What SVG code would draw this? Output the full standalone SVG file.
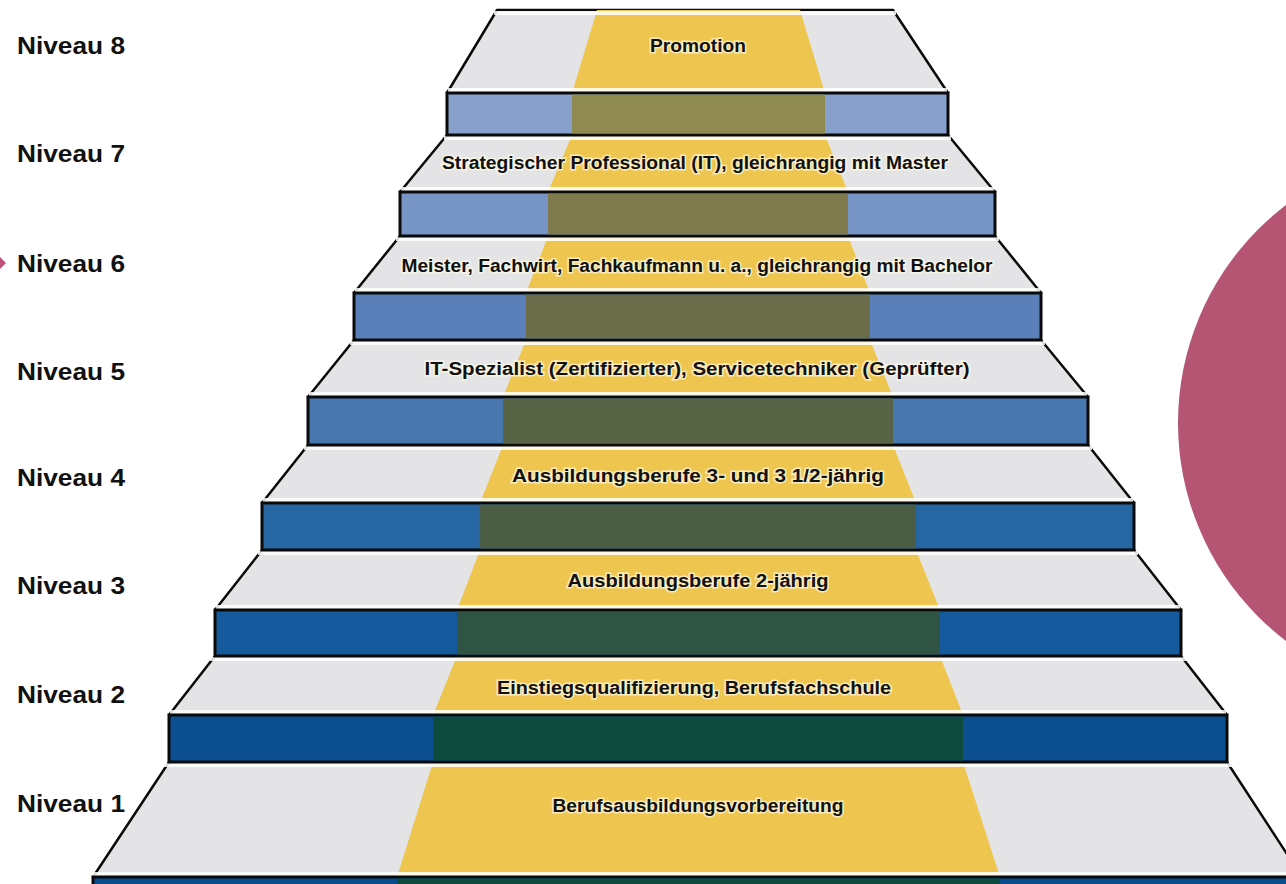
<svg xmlns="http://www.w3.org/2000/svg" width="1286" height="884" viewBox="0 0 1286 884">
<style>
.tread{fill:#E4E4E6;stroke:#0a0a0a;stroke-width:2.5;stroke-linejoin:round}
.yel{fill:#EEC64F}
.hl{stroke:#ffffff;stroke-width:4;stroke-opacity:0.85}
.riser{stroke:#0a0a0a;stroke-width:3}
.lbl{font-family:"Liberation Sans",Arial,sans-serif;font-weight:bold;font-size:18px;fill:#111;text-anchor:middle;stroke:#fffbe8;stroke-width:3;stroke-opacity:0.7;paint-order:stroke}
.niv{font-family:"Liberation Sans",Arial,sans-serif;font-weight:bold;font-size:24px;fill:#111}
</style>
<rect width="1286" height="884" fill="#ffffff"/>
<circle cx="1452" cy="423" r="274" fill="#B55473"/>
<polygon points="0,257 6,263 0,269" fill="#C0507A"/>

<g id="step1">
<polygon class="tread" points="169,762 1227,762 1302,877 93,877"/>
<polygon class="yel" points="433,762 963,762 1000,877 397,877"/>
<line class="hl" x1="160" y1="765" x2="1240" y2="765"/>
<line class="hl" x1="90" y1="874" x2="1300" y2="874"/>
<rect x="93" y="877" width="1220" height="20" fill="#0B4E8E" class="riser"/>
<rect x="397" y="878.5" width="603" height="10" fill="#0E4A3E"/>
<text class="lbl" x="698" y="812" textLength="291" lengthAdjust="spacingAndGlyphs">Berufsausbildungsvorbereitung</text>
</g>

<g id="step2">
<polygon class="tread" points="215,656 1181,656 1227,715 169,715"/>
<polygon class="yel" points="457,656 940,656 963,715 433,715"/>
<line class="hl" x1="210" y1="659" x2="1186" y2="659"/>
<line class="hl" x1="170" y1="712" x2="1226" y2="712"/>
<rect x="169" y="715" width="1058" height="47" fill="#0B4F90" class="riser"/>
<rect x="433" y="716.5" width="530" height="44" fill="#0D4B3C"/>
<text class="lbl" x="694" y="694" textLength="394" lengthAdjust="spacingAndGlyphs">Einstiegsqualifizierung, Berufsfachschule</text>
</g>

<g id="step3">
<polygon class="tread" points="262,550 1134,550 1181,610 215,610"/>
<polygon class="yel" points="480,550 916,550 940,610 457,610"/>
<line class="hl" x1="258" y1="553" x2="1138" y2="553"/>
<line class="hl" x1="216" y1="607" x2="1180" y2="607"/>
<rect x="215" y="610" width="966" height="46" fill="#155A9C" class="riser"/>
<rect x="457" y="611.5" width="483" height="43" fill="#2F5444"/>
<text class="lbl" x="698" y="587" textLength="261" lengthAdjust="spacingAndGlyphs">Ausbildungsberufe 2-jährig</text>
</g>

<g id="step4">
<polygon class="tread" points="308,445 1088,445 1134,503 262,503"/>
<polygon class="yel" points="503,445 893,445 916,503 480,503"/>
<line class="hl" x1="304" y1="448" x2="1092" y2="448"/>
<line class="hl" x1="263" y1="500" x2="1133" y2="500"/>
<rect x="262" y="503" width="872" height="47" fill="#2566A3" class="riser"/>
<rect x="480" y="504.5" width="436" height="44" fill="#4B5E45"/>
<text class="lbl" x="698" y="482" textLength="372" lengthAdjust="spacingAndGlyphs">Ausbildungsberufe 3- und 3 1/2-jährig</text>
</g>

<g id="step5">
<polygon class="tread" points="354,340 1041,340 1088,397 308,397"/>
<polygon class="yel" points="526,340 870,340 893,397 503,397"/>
<line class="hl" x1="350" y1="343" x2="1045" y2="343"/>
<line class="hl" x1="309" y1="394" x2="1087" y2="394"/>
<rect x="308" y="397" width="780" height="48" fill="#4876AE" class="riser"/>
<rect x="503" y="398.5" width="390" height="45" fill="#596446"/>
<text class="lbl" x="697" y="375" textLength="545" lengthAdjust="spacingAndGlyphs">IT-Spezialist (Zertifizierter), Servicetechniker (Geprüfter)</text>
</g>

<g id="step6">
<polygon class="tread" points="400,236 995,236 1041,293 354,293"/>
<polygon class="yel" points="548,236 848,236 870,293 526,293"/>
<line class="hl" x1="396" y1="239" x2="999" y2="239"/>
<line class="hl" x1="355" y1="290" x2="1040" y2="290"/>
<rect x="354" y="293" width="687" height="47" fill="#5B80B9" class="riser"/>
<rect x="526" y="294.5" width="344" height="44" fill="#6A6C4A"/>
<text class="lbl" x="697" y="272" textLength="591" lengthAdjust="spacingAndGlyphs">Meister, Fachwirt, Fachkaufmann u. a., gleichrangig mit Bachelor</text>
</g>

<g id="step7">
<polygon class="tread" points="447,135 948,135 995,192 400,192"/>
<polygon class="yel" points="572,135 825,135 848,192 548,192"/>
<line class="hl" x1="444" y1="138" x2="951" y2="138"/>
<line class="hl" x1="401" y1="189" x2="994" y2="189"/>
<rect x="400" y="192" width="595" height="44" fill="#7694C6" class="riser"/>
<rect x="548" y="193.5" width="300" height="41" fill="#7E7A4E"/>
<text class="lbl" x="695" y="169" textLength="506" lengthAdjust="spacingAndGlyphs">Strategischer Professional (IT), gleichrangig mit Master</text>
</g>

<g id="step8">
<polygon class="tread" points="497,10 893,10 948,93 447,93"/>
<polygon class="yel" points="597,10 800,10 825,93 572,93"/>
<line class="hl" x1="494" y1="13" x2="896" y2="13"/>
<line class="hl" x1="448" y1="90" x2="947" y2="90"/>
<rect x="447" y="93" width="501" height="42" fill="#87A0CC" class="riser"/>
<rect x="572" y="94.5" width="253" height="39" fill="#8E8A50"/>
<text class="lbl" x="698" y="52" textLength="96" lengthAdjust="spacingAndGlyphs">Promotion</text>
</g>

<g id="levels">
<text class="niv" x="17" y="54" textLength="108" lengthAdjust="spacingAndGlyphs">Niveau 8</text>
<text class="niv" x="17" y="162" textLength="108" lengthAdjust="spacingAndGlyphs">Niveau 7</text>
<text class="niv" x="17" y="272" textLength="108" lengthAdjust="spacingAndGlyphs">Niveau 6</text>
<text class="niv" x="17" y="380" textLength="108" lengthAdjust="spacingAndGlyphs">Niveau 5</text>
<text class="niv" x="17" y="486" textLength="108" lengthAdjust="spacingAndGlyphs">Niveau 4</text>
<text class="niv" x="17" y="594" textLength="108" lengthAdjust="spacingAndGlyphs">Niveau 3</text>
<text class="niv" x="17" y="703" textLength="108" lengthAdjust="spacingAndGlyphs">Niveau 2</text>
<text class="niv" x="17" y="812" textLength="108" lengthAdjust="spacingAndGlyphs">Niveau 1</text>
</g>
</svg>
